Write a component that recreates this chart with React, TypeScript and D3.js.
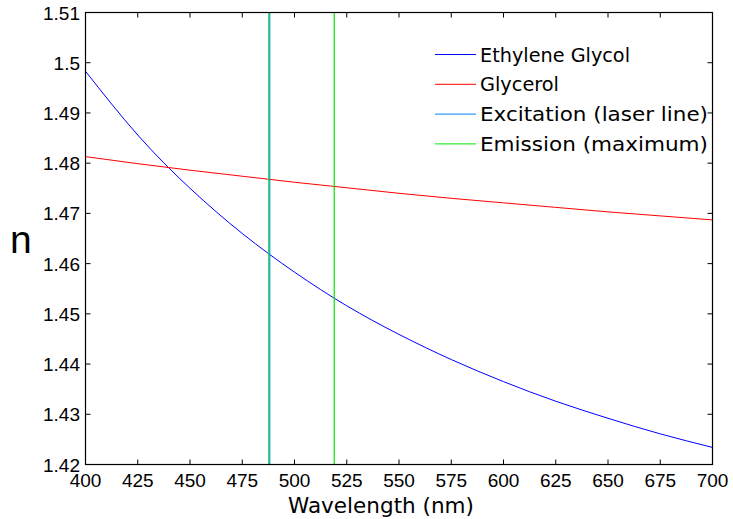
import React from "react";
import * as d3 from "d3";

const wavelengths = [400, 425, 450, 475, 500, 525, 550, 575, 600, 625, 650, 675, 700];
const ethyleneGlycol = [1.4983, 1.4856, 1.475, 1.466, 1.4583, 1.4516, 1.4459, 1.4409, 1.4365, 1.4326, 1.4292, 1.4261, 1.4234];
const glycerol = [1.4813, 1.4799, 1.4786, 1.4774, 1.4762, 1.4751, 1.474, 1.473, 1.4721, 1.4712, 1.4703, 1.4695, 1.4687];
const excitationLines = [488.2];
const emissionLines = [487.7, 519];
const xTicks = [400, 425, 450, 475, 500, 525, 550, 575, 600, 625, 650, 675, 700];
const yTicks = [1.42, 1.43, 1.44, 1.45, 1.46, 1.47, 1.48, 1.49, 1.5, 1.51];
const legendLabels = ["Ethylene Glycol", "Glycerol", "Excitation (laser line)", "Emission (maximum)"];
const legendColors = ["#0000ff", "#ff0000", "#0080ff", "#00e600"];
const legendTextWidths = [150, 79, 228, 228];

const W = 733, H = 519;
const L = 85.5, R = 712.5, T = 12.5, B = 464.5;

export default function App() {
  const x = d3.scaleLinear().domain([400, 700]).range([L, R]);
  const y = d3.scaleLinear().domain([1.42, 1.51]).range([B, T]);
  const line = d3.line<number>().x((_, i) => x(wavelengths[i])).y((d) => y(d)).curve(d3.curveNatural);
  const tickFont = "'Liberation Sans', Arial, sans-serif";
  const djv = "'DejaVu Sans', sans-serif";
  return (
    <svg width={W} height={H} style={{ position: "absolute", left: 0, top: 0, background: "#fff" }}>
      <rect x={0} y={0} width={W} height={H} fill="#fff" />
      <path d={line(ethyleneGlycol) || ""} fill="none" stroke={legendColors[0]} strokeWidth={1} />
      <path d={line(glycerol) || ""} fill="none" stroke={legendColors[1]} strokeWidth={1} />
      {emissionLines.map((w, i) => (
        <line key={"em" + i} x1={x(w)} x2={x(w)} y1={T} y2={B} stroke={legendColors[3]} strokeWidth={1.2} />
      ))}
      {excitationLines.map((w, i) => (
        <line key={"ex" + i} x1={x(w)} x2={x(w)} y1={T} y2={B} stroke={legendColors[2]} strokeWidth={1} />
      ))}
      <rect x={L} y={T} width={R - L} height={B - T} fill="none" stroke="#000" strokeWidth={1.2} />
      {xTicks.map((t) => (
        <g key={"xt" + t}>
          <line x1={x(t)} x2={x(t)} y1={B} y2={B - 5} stroke="#000" />
          <line x1={x(t)} x2={x(t)} y1={T} y2={T + 5} stroke="#000" />
          <text x={x(t)} y={487} textAnchor="middle" fontFamily={tickFont} fontSize={19} fill="#000">{t}</text>
        </g>
      ))}
      {yTicks.map((t) => (
        <g key={"yt" + t}>
          <line x1={L} x2={L + 5} y1={y(t)} y2={y(t)} stroke="#000" />
          <line x1={R} x2={R - 5} y1={y(t)} y2={y(t)} stroke="#000" />
          <text x={80} y={y(t) + 7} textAnchor="end" fontFamily={tickFont} fontSize={19} fill="#000">{d3.format("")(+t.toFixed(2))}</text>
        </g>
      ))}
      <text x={288} y={513} textLength={186} lengthAdjust="spacingAndGlyphs" fontFamily={djv} fontSize={20.5} fill="#000">Wavelength (nm)</text>
      <text x={10} y={253} fontFamily={tickFont} fontSize={39} fill="#000">n</text>
      {legendLabels.map((lab, i) => (
        <g key={"lg" + i}>
          <line x1={435} x2={476} y1={54.5 + i * 29.8} y2={54.5 + i * 29.8} stroke={legendColors[i]} strokeWidth={1} />
          <text x={480} y={61.5 + i * 29.8} textLength={legendTextWidths[i]} lengthAdjust="spacingAndGlyphs" fontFamily={djv} fontSize={20} fill="#000">{lab}</text>
        </g>
      ))}
    </svg>
  );
}
